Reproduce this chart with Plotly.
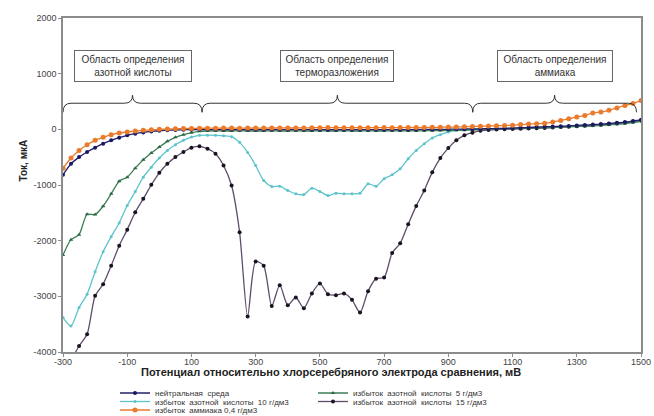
import plotly.graph_objects as go

# ---------------- data ----------------
potential_mv = [-300, -275, -250, -225, -200, -175, -150, -125, -100, -75, -50, -25,
                0, 25, 50, 75, 100, 125, 150, 175, 200, 225, 250, 275,
                300, 325, 350, 375, 400, 425, 450, 475, 500, 525, 550, 575,
                600, 625, 650, 675, 700, 725, 750, 775, 800, 825, 850, 875,
                900, 925, 950, 975, 1000, 1025, 1050, 1075, 1100, 1125, 1150, 1175,
                1200, 1225, 1250, 1275, 1300, 1325, 1350, 1375, 1400, 1425, 1450, 1475, 1500]

neutral = [-817, -619, -499, -408, -330, -258, -198, -150, -108, -78, -55, -38,
           -25, -18, -12, -8, -6, -5, -5, -4, -5, -5, -4, -5,
           -5, -6, -5, -4, -5, -5, -4, -3, -4, -5, -5, -4,
           -5, -5, -4, -5, -5, -4, -3, -4, -3, -2, -2, 0,
           2, 4, 6, 8, 10, 12, 15, 18, 22, 28, 34, 40,
           45, 50, 55, 62, 70, 78, 85, 95, 105, 118, 130, 150, 170]

nitric_5 = [-2259, -1982, -1892, -1526, -1531, -1381, -1159, -931, -859, -697, -547, -427,
            -318, -216, -144, -96, -60, -36, -30, -28, -30, -30, -28, -30,
            -30, -30, -28, -30, -30, -28, -30, -30, -28, -30, -30, -28,
            -30, -30, -28, -30, -30, -28, -30, -28, -28, -26, -24, -22,
            -20, -18, -15, -10, -5, 0, 4, 8, 12, 16, 20, 25,
            30, 34, 38, 44, 50, 56, 62, 70, 80, 92, 105, 125, 150]

nitric_10 = [-3382, -3532, -3202, -2961, -2559, -2198, -1928, -1682, -1369, -1117, -859, -679,
             -516, -378, -276, -198, -138, -108, -105, -108, -115, -132, -234, -414,
             -649, -919, -1027, -1021, -1099, -1159, -1171, -1057, -1117, -1189, -1147, -1159,
             -1159, -1147, -979, -1021, -889, -817, -709, -529, -378, -258, -156, -96,
             -48, -18, -6, 0, 3, 6, 10, 14, 18, 22, 26, 30,
             35, 40, 45, 52, 58, 65, 72, 80, 90, 100, 112, 125, 140]

nitric_15 = [-4400, -4150, -3892, -3682, -2991, -2781, -2451, -2090, -1802, -1490, -1249, -997,
             -781, -619, -499, -408, -330, -306, -348, -438, -649, -1009, -1850, -3364,
             -2373, -2451, -3172, -2800, -3160, -3021, -3213, -2949, -2769, -2961, -2979, -2949,
             -3063, -3292, -2907, -2682, -2661, -2220, -2048, -1706, -1375, -1099, -769, -517,
             -337, -198, -108, -60, -24, -12, -5, 0, 5, 10, 15, 20,
             25, 32, 40, 48, 56, 64, 72, 82, 92, 105, 120, 140, 160]

ammonia = [-700, -516, -378, -276, -198, -144, -96, -66, -48, -30, -18, -8,
           0, 5, 10, 14, 16, 18, 20, 20, 22, 22, 20, 22,
           24, 22, 24, 26, 24, 25, 26, 28, 30, 32, 30, 28,
           30, 28, 30, 30, 32, 30, 32, 34, 32, 34, 36, 38,
           40, 42, 45, 50, 55, 60, 64, 68, 75, 85, 95, 102,
           110, 130, 160, 190, 220, 250, 295, 312, 342, 384, 430, 462, 520]

series_names = ["нейтральная  среда",
                "избыток  азотной  кислоты  5 г/дм3",
                "избыток  азотной  кислоты  10 г/дм3",
                "избыток  азотной  кислоты  15 г/дм3",
                "избыток  аммиака 0,4 г/дм3"]

region_labels = ["Область определения<br>азотной кислоты",
                 "Область определения<br>терморазложения",
                 "Область определения<br>аммиака"]
region_spans = [(-300, 133), (133, 976), (976, 1486)]

x_ticks = [-300, -100, 100, 300, 500, 700, 900, 1100, 1300, 1500]
y_ticks = [-4000, -3000, -2000, -1000, 0, 1000, 2000]

x_title = "Потенциал относительно хлорсеребряного электрода сравнения, мВ"
y_title = "Ток, мкА"

# ---------------- figure ----------------
W, H = 654, 416
L, R, T, B = 63, 13, 18, 64
PW, PH = W - L - R, H - T - B
FONT = "Liberation Sans, Arial, sans-serif"


def paper_x(px):
    return (px - L) / PW


def paper_y(py):
    return (H - B - py) / PH


fig = go.Figure()

# (values, name idx, line colour, marker colour, marker symbol, marker size, legend id, legend pos px)
specs = [
    (nitric_10, 2, "#5cc4ca", "#5cc4ca", "circle", 3, "legend3", (115, 401.5)),
    (nitric_15, 3, "#5f4d6b", "#1b1420", "circle", 4, "legend4", (313, 401.5)),
    (nitric_5, 1, "#3f7d57", "#2a6a44", "triangle-up", 4, "legend2", (313, 393)),
    (neutral, 0, "#22206a", "#1a1860", "circle", 4, "legend", (115, 393)),
    (ammonia, 4, "#ea7a2c", "#ea7a2c", "circle", 5, "legend5", (115, 410)),
]

legend_layout = {}
for vals, ni, lc, mc, sym, ms, lg, (lx, ly) in specs:
    fig.add_trace(go.Scatter(
        x=potential_mv, y=vals, name=series_names[ni], legend=lg, showlegend=True,
        mode="lines+markers",
        line=dict(color=lc, width=1.3, shape="spline", smoothing=0.7),
        marker=dict(color=mc, symbol=sym, size=ms),
    ))
    legend_layout[lg] = dict(
        x=lx / W, y=1 - ly / H, xref="container", yref="container",
        xanchor="left", yanchor="middle",
        orientation="h", bgcolor="rgba(0,0,0,0)", borderwidth=0,
        font=dict(family=FONT, size=8, color="#333333"),
        itemwidth=30, tracegroupgap=0,
    )

# braces
brace_color = "#333333"
y_end, y_mid, y_tip = 306, 469, 613
r = 25
for (x0, x1) in region_spans:
    xm = (x0 + x1) / 2
    path = (f"M {x0},{y_end} Q {x0},{y_mid} {x0 + r},{y_mid} "
            f"L {xm - r},{y_mid} Q {xm},{y_mid} {xm},{y_tip} "
            f"Q {xm},{y_mid} {xm + r},{y_mid} "
            f"L {x1 - r},{y_mid} Q {x1},{y_mid} {x1},{y_end}")
    fig.add_shape(type="path", path=path, xref="x", yref="y",
                  line=dict(color=brace_color, width=1))

# region labels
box_y = 1130
for (x0, x1), txt, w in zip(region_spans, region_labels, [110, 106, 108]):
    fig.add_annotation(x=(x0 + x1) / 2, y=box_y, xref="x", yref="y", text=txt,
                       showarrow=False, width=w, align="center",
                       font=dict(family=FONT, size=10, color="#333333"),
                       bordercolor="#666666", borderwidth=1, borderpad=3, bgcolor="white")

# axis titles as annotations (placed as in the reference)
fig.add_annotation(x=paper_x(15), y=paper_y(161), xref="paper", yref="paper",
                   text=f"<b>{y_title}</b>", textangle=-90, showarrow=False,
                   font=dict(family=FONT, size=10, color="#222222"))
fig.add_annotation(x=paper_x(331), y=paper_y(380), xref="paper", yref="paper",
                   text=f"<b>{x_title}</b>", showarrow=False,
                   font=dict(family=FONT, size=11, color="#222222"))

axis_common = dict(showgrid=False, zeroline=False, showline=True, linecolor="#8c8c8c",
                   linewidth=1.5, mirror=True, ticks="outside", ticklen=3,
                   tickcolor="#8c8c8c", automargin=False,
                   tickfont=dict(family=FONT, size=9, color="#444444"))

fig.update_layout(
    width=W, height=H,
    margin=dict(l=L, r=R, t=T, b=B, autoexpand=False),
    paper_bgcolor="white", plot_bgcolor="white",
    xaxis=dict(range=[-300, 1500], tickvals=x_ticks, ticktext=[str(v) for v in x_ticks],
               ticklabelstandoff=-3, **axis_common),
    yaxis=dict(range=[-4000, 2000], tickvals=y_ticks, ticktext=[str(v) for v in y_ticks],
               **axis_common),
    **legend_layout,
)

fig.write_html("out.html")
